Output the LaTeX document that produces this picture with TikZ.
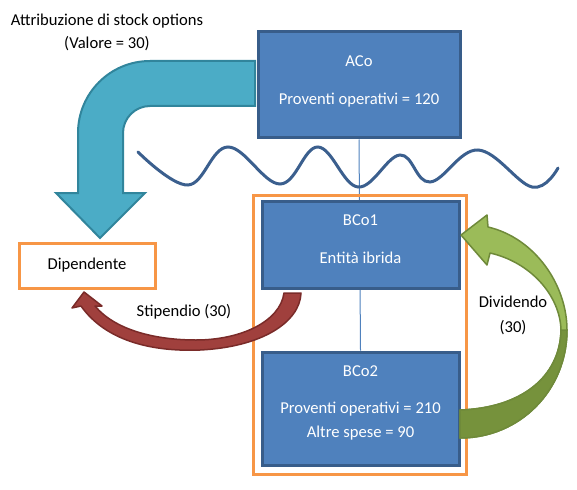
\documentclass[tikz,border=0pt]{standalone}
\usepackage{fontspec}
\setmainfont{Carlito}
\usetikzlibrary{backgrounds,calc}
\definecolor{boxfill}{HTML}{4F81BD}
\definecolor{boxline}{HTML}{385D8A}
\definecolor{orangeline}{HTML}{F79646}
\definecolor{cyanfill}{HTML}{4BACC6}
\definecolor{cyanline}{HTML}{31859C}
\definecolor{greenlight}{HTML}{9BBB59}
\definecolor{greendark}{HTML}{76923C}
\definecolor{greenline}{HTML}{6F8A3A}
\definecolor{redfill}{HTML}{A0403D}
\definecolor{redline}{HTML}{7A2B29}
\definecolor{waveblue}{HTML}{3B5F8E}
\tikzset{
  x=1pt, y=-1pt,
  every node/.style={font=\fontsize{16.6}{20}\selectfont},
  bluebox/.style={draw=boxline, fill=boxfill, line width=3pt, inner sep=0pt},
  orangebox/.style={draw=orangeline, line width=3pt, inner sep=0pt},
  boxtext/.style={text=white, align=center, inner sep=0pt},
  plaintext/.style={text=black, align=center, inner sep=0pt},
}
\begin{document}
\begin{tikzpicture}
\path[use as bounding box] (0,0) rectangle (577,489);

% boxes
\node[bluebox, minimum width=202pt, minimum height=106pt] (aco) at (359,85) {};
\node[bluebox, minimum width=197pt, minimum height=87pt] (bco1) at (360.5,244.5) {};
\node[bluebox, minimum width=197pt, minimum height=113pt] (bco2) at (360.5,408.5) {};
\node[orangebox, minimum width=213pt, minimum height=279pt] (grp) at (359.5,334.5) {};
\node[orangebox, fill=white, minimum width=136pt, minimum height=45pt] (dip) at (87,265.5) {};

% box texts
\node[boxtext] (acot) at ($(aco.center)+(0,-4)$) {ACo\\[18pt]Proventi operativi = 120};
\node[boxtext] (bco1t) at ($(bco1.center)+(0,-5.5)$) {BCo1\\[18pt]Entità ibrida};
\node[boxtext] (bco2t) at ($(bco2.center)+(0,-6)$) {BCo2\\[17pt]Proventi operativi = 210\\[4pt]Altre spese = 90};
\node[plaintext] (dipt) at (dip.center) {Dipendente};

% connector line
\begin{scope}[on background layer]
\draw[boxfill, line width=1pt] (aco.south) -- (bco2.north);
\end{scope}

% wave
\draw[waveblue, line width=3pt, line cap=round] plot[smooth, tension=0.65] coordinates
 {(138,152) (188,185) (228,147) (280,184) (318,147) (358,187) (400,155) (430,182) (478,150) (532,187) (558,168)};

% cyan bent arrow
\filldraw[fill=cyanfill, draw=cyanline, line width=2pt, line join=miter]
  (255,61) -- (150,61) .. controls (110.2,61) and (78,93.2) .. (78,133) -- (78,193)
  -- (56,193) -- (100,238) -- (145,193) -- (123,193) -- (123,133)
  .. controls (123,118.1) and (135.1,106) .. (150,106) -- (255,106) -- cycle;

% red curved arrow
\filldraw[fill=redfill, draw=redline, line width=1.5pt, line join=round]
  (301,293) .. controls (300,322) and (262,347) .. (200,350)
  .. controls (150,352) and (105,340) .. (81,306)
  -- (72,308) -- (84,292) -- (102,306) -- (95,306)
  .. controls (115,330) and (155,340) .. (196,340)
  .. controls (240,340) and (280,322) .. (284,293) -- cycle;

% green curved arrow
\filldraw[fill=greenlight, draw=greenline, line width=1.5pt, line join=round]
  (488,227) .. controls (535,238) and (567,285) .. (567,330)
  .. controls (567,390) and (520,438) .. (460,438) -- (460,410)
  .. controls (520,408) and (560,378) .. (561,330)
  .. controls (560,295) and (530,262) .. (490,253)
  -- (487,265) -- (461,235) -- (487,215) -- cycle;
\filldraw[fill=greendark, draw=greenline, line width=1.5pt, line join=round]
  (567,330) .. controls (567,390) and (520,438) .. (460,438) -- (460,410)
  .. controls (520,408) and (560,378) .. (561,330) -- cycle;

% labels
\node[plaintext] (attr) at (107,32.5) {Attribuzione di stock options\\[3pt](Valore = 30)};
\node[plaintext] (stip) at (184,312) {Stipendio (30)};
\node[plaintext] (divi) at (513,315.5) {Dividendo\\[5pt](30)};
\end{tikzpicture}
\end{document}
